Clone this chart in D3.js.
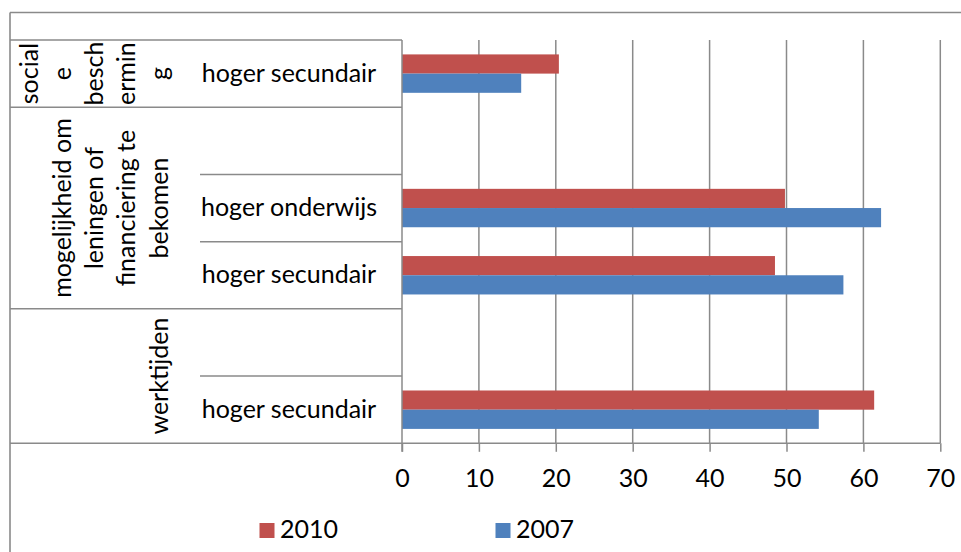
<!DOCTYPE html>
<html><head><meta charset="utf-8">
<script src="https://cdn.jsdelivr.net/npm/d3@7"></script>
<style>
body{margin:0;background:#fff}
text{font-family:Lato, "Open Sans", sans-serif; fill:#000}
</style>
</head><body>
<svg id="c" width="961" height="552"></svg>
<script>
// ---- data ----
const slotLabels = ["hoger secundair", "", "hoger onderwijs", "hoger secundair", "", "hoger secundair"];
const slotGroup = [0, 1, 1, 1, 2, 2];
const groupLabels = [
  ["social", "e", "besch", "ermin", "g"],
  ["mogelijkheid om", "leningen of", "financiering te", "bekomen"],
  ["werktijden"]
];
const series = ["2010", "2007"];
const values2010 = [20.4, null, 49.8, 48.5, null, 61.4];
const values2007 = [15.5, null, 62.3, 57.4, null, 54.2];
const xTicks = [0, 10, 20, 30, 40, 50, 60, 70];
const colors = {"2010": "#C0504D", "2007": "#4F81BD"};

(function () {
// ---- layout ----
const svg = d3.select("#c");
const FS = 25;
const lineCol = "#8a8a8a";
const pLeft = 402, pRight = 940.3, pTop = 40, pBottom = 443.3;
const x = d3.scaleLinear().domain([0, 70]).range([pLeft, pRight]);
const y = d3.scaleBand().domain(d3.range(slotLabels.length)).range([pTop, pBottom]);
const sub = d3.scaleBand().domain(series).range([0, y.bandwidth()]).paddingOuter(0.75).paddingInner(0);
const valuesBy = {"2010": values2010, "2007": values2007};

// outer border
svg.append("line").attr("x1", 10).attr("x2", 961).attr("y1", 12.5).attr("y2", 12.5)
  .attr("stroke", lineCol).attr("stroke-width", 1.6);
svg.append("line").attr("x1", 10).attr("x2", 10).attr("y1", 12.5).attr("y2", 552)
  .attr("stroke", lineCol).attr("stroke-width", 1.6);

// gridlines
svg.append("g").selectAll("line").data(xTicks.filter(d => d > 0)).join("line")
  .attr("x1", d => x(d)).attr("x2", d => x(d))
  .attr("y1", pTop).attr("y2", pBottom)
  .attr("stroke", lineCol).attr("stroke-width", 1.5);

// bars
series.forEach(s => {
  svg.append("g").selectAll("rect")
    .data(valuesBy[s].map((v, i) => ({v, i})).filter(d => d.v != null))
    .join("rect")
    .attr("x", x(0))
    .attr("y", d => y(d.i) + sub(s))
    .attr("width", d => x(d.v) - x(0))
    .attr("height", sub.bandwidth())
    .attr("fill", colors[s]);
});

// x axis
const ax = svg.append("g").attr("transform", `translate(0,${pBottom})`)
  .call(d3.axisBottom(x).tickValues(xTicks).tickSize(8.5).tickSizeOuter(0));
ax.select(".domain").remove();
ax.selectAll(".tick line").attr("stroke", lineCol).attr("stroke-width", 1.5);
ax.selectAll(".tick text").attr("y", 44).attr("dy", 0)
  .style("font-family", "Lato, 'Open Sans', sans-serif").style("font-size", FS + "px").attr("fill", "#000");
// axis baseline
svg.append("line").attr("x1", 10).attr("x2", pRight).attr("y1", pBottom).attr("y2", pBottom)
  .attr("stroke", lineCol).attr("stroke-width", 1.5);
// value axis line
svg.append("line").attr("x1", pLeft).attr("x2", pLeft).attr("y1", pTop).attr("y2", pBottom + 8.5)
  .attr("stroke", lineCol).attr("stroke-width", 1.5);

// category boundary lines
const boundaries = d3.range(slotLabels.length).map(i => ({
  yy: y(i),
  full: i === 0 || slotGroup[i] !== slotGroup[i - 1]
}));
svg.append("g").selectAll("line").data(boundaries).join("line")
  .attr("x1", d => d.full ? 10 : 200).attr("x2", pLeft)
  .attr("y1", d => d.yy).attr("y2", d => d.yy)
  .attr("stroke", lineCol).attr("stroke-width", 1.5);

// slot labels
svg.append("g").selectAll("text").data(slotLabels.map((t, i) => ({t, i})).filter(d => d.t))
  .join("text")
  .attr("x", 289).attr("y", d => y(d.i) + y.bandwidth() / 2 + 8)
  .attr("text-anchor", "middle").style("font-size", FS + "px")
  .text(d => d.t);

// group labels (rotated)
groupLabels.forEach((lines, g) => {
  const idx = slotGroup.map((gg, i) => gg === g ? i : -1).filter(i => i >= 0);
  const yc = (y(idx[0]) + y(idx[idx.length - 1]) + y.bandwidth()) / 2;
  lines.forEach((ln, k) => {
    const bx = 167.5 - (lines.length - 1 - k) * 32.3;
    svg.append("text")
      .attr("transform", `translate(${bx},${yc}) rotate(-90)`)
      .attr("text-anchor", "middle").style("font-size", FS + "px")
      .text(ln);
  });
});

// legend
const legend = [
  {s: "2010", rx: 259.5, tx: 280},
  {s: "2007", rx: 495.5, tx: 516}
];
legend.forEach(l => {
  svg.append("rect").attr("x", l.rx).attr("y", 523).attr("width", 15).attr("height", 15)
    .attr("fill", colors[l.s]);
  svg.append("text").attr("x", l.tx).attr("y", 538).style("font-size", FS + "px").text(l.s);
});
})();
</script>
</body></html>
